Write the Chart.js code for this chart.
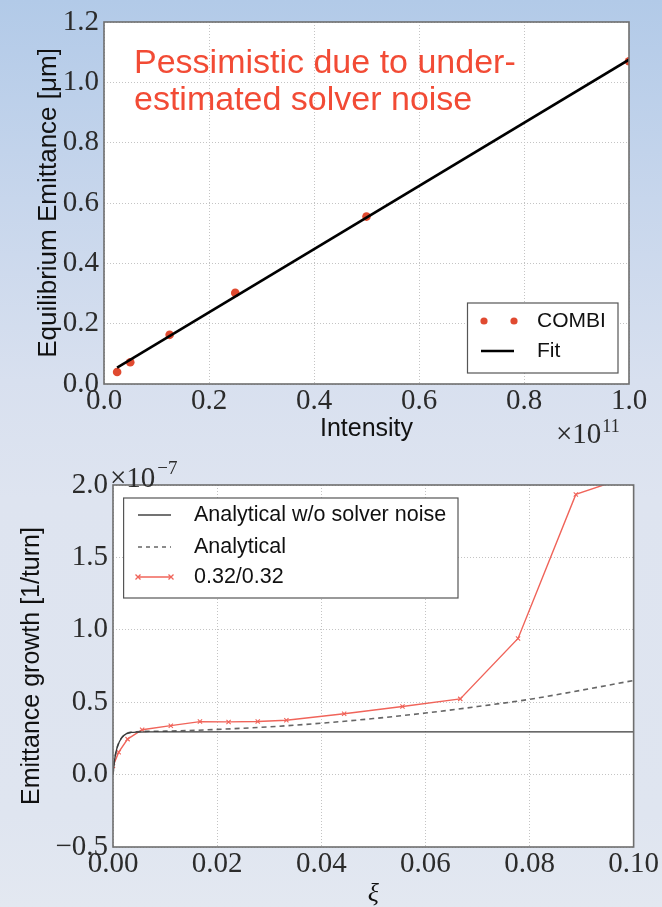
<!DOCTYPE html>
<html>
<head>
<meta charset="utf-8">
<script src="https://cdn.jsdelivr.net/npm/chart.js@4/dist/chart.umd.min.js"></script>
<style>
  html, body { margin:0; padding:0; }
  body { width:662px; height:907px; position:relative; overflow:hidden;
    background: linear-gradient(180deg, #b2cae8 0%, #c7d6ec 22%, #d8e0ef 42%, #dee4f0 55%, #dfe5f0 90%, #e3e8f1 100%); }
  canvas { position:absolute; left:0; }
  #top { top:0; }
  #bot { top:450px; }
</style>
</head>
<body>
<canvas id="top" width="662" height="450"></canvas>
<canvas id="bot" width="662" height="457"></canvas>
<script>
// ---------- Top chart data (Intensity in units of 1e11, emittance in µm) ----------
const intensity      = [0.025, 0.05, 0.125, 0.25, 0.5, 1.0];
const combiEmittance = [0.04, 0.072, 0.163, 0.302, 0.555, 1.07];
const fitIntensity   = [0.025, 1.0];
const fitEmittance   = [0.054, 1.075];
const topXTicks = [0, 0.2, 0.4, 0.6, 0.8, 1.0];
const topXLabels = ['0.0', '0.2', '0.4', '0.6', '0.8', '1.0'];
const topYTicks = [0, 0.2, 0.4, 0.6, 0.8, 1.0, 1.2];
const topYLabels = ['0.0', '0.2', '0.4', '0.6', '0.8', '1.0', '1.2'];

// ---------- Bottom chart data (growth in units of 1e-7 per turn) ----------
const xiNoNoise      = [0, 0.0003, 0.0007, 0.0012, 0.0017, 0.0026, 0.0035, 0.0045, 0.007, 0.1];
const growthNoNoise  = [0, 0.10, 0.175, 0.225, 0.256, 0.283, 0.291, 0.294, 0.295, 0.295];
const xiAnalytical     = [0, 0.0003, 0.0007, 0.0012, 0.0017, 0.0026, 0.0045, 0.01, 0.02, 0.03, 0.04, 0.05, 0.06, 0.07, 0.08, 0.09, 0.1];
const growthAnalytical = [0, 0.10, 0.175, 0.225, 0.256, 0.283, 0.296, 0.30, 0.312, 0.33, 0.355, 0.387, 0.425, 0.47, 0.52, 0.583, 0.65];
const xiSim     = [0, 0.0011, 0.0028, 0.0056, 0.0111, 0.0167, 0.0222, 0.0278, 0.0333, 0.0444, 0.0556, 0.0667, 0.0778, 0.0889, 0.1];
const growthSim = [0.06, 0.155, 0.245, 0.31, 0.338, 0.366, 0.364, 0.367, 0.375, 0.42, 0.47, 0.523, 0.94, 1.935, 2.07];
const botXTicks = [0, 0.02, 0.04, 0.06, 0.08, 0.10];
const botXLabels = ['0.00', '0.02', '0.04', '0.06', '0.08', '0.10'];
const botYTicks = [-0.5, 0, 0.5, 1.0, 1.5, 2.0];
const botYLabels = ['\u22120.5', '0.0', '0.5', '1.0', '1.5', '2.0'];

const SERIF = "'Liberation Serif', 'DejaVu Serif', serif";
const SANS = "'Liberation Sans', Arial, sans-serif";
const TICK_COLOR = '#2b2b2b';
const GRID_COLOR = '#c4c4c4';

const zip = (xs, ys) => xs.map((x, i) => ({x, y: ys[i]}));

const framePlugin = {
  id: 'frame',
  beforeDraw(chart) {
    const {ctx, chartArea: a} = chart;
    ctx.save();
    ctx.fillStyle = '#ffffff';
    ctx.fillRect(a.left, a.top, a.right - a.left, a.bottom - a.top);
    ctx.restore();
  },
  afterDatasetsDraw(chart) {
    const {ctx, chartArea: a} = chart;
    ctx.save();
    ctx.strokeStyle = '#6e6e6e';
    ctx.lineWidth = 1.6;
    ctx.strokeRect(a.left, a.top, a.right - a.left, a.bottom - a.top);
    ctx.restore();
  }
};

function axisCommon(ticksArr, labelsArr) {
  return {
    type: 'linear',
    afterBuildTicks: s => { s.ticks = ticksArr.map(v => ({value: v})); },
    ticks: {
      autoSkip: false, maxRotation: 0, minRotation: 0,
      callback: (v) => { const i = ticksArr.findIndex(t => Math.abs(t - v) < 1e-9); return i >= 0 ? labelsArr[i] : ''; },
      font: {family: SERIF, size: 29, lineHeight: 1.0},
      color: TICK_COLOR
    },
    grid: {color: GRID_COLOR, lineWidth: 1, drawTicks: false},
    border: {display: false, dash: [1, 2]}
  };
}

// ---------------- TOP CHART ----------------
const topX = axisCommon(topXTicks, topXLabels);
Object.assign(topX, {min: 0, max: 1, afterFit: s => { s.height = 66; }});
topX.ticks.padding = 3;
topX.title = {display: true, text: 'Intensity', color: '#111', font: {family: SANS, size: 25}, padding: {top: 0, bottom: 6}};
const topY = axisCommon(topYTicks, topYLabels);
Object.assign(topY, {min: 0, max: 1.2, afterFit: s => { s.width = 104; }});
topY.ticks.padding = 5;
topY.title = {display: true, text: 'Equilibrium Emittance [\u03bcm]', color: '#111', font: {family: SANS, size: 26}, padding: {top: 33, bottom: 0}};

const topOverlay = {
  id: 'topOverlay',
  afterDraw(chart) {
    const ctx = chart.ctx;
    ctx.save();
    // annotation
    ctx.fillStyle = '#f24b35';
    ctx.font = `34px ${SANS}`;
    ctx.textBaseline = 'alphabetic';
    ctx.textAlign = 'left';
    ctx.fillText('Pessimistic due to under-', 134, 73);
    ctx.fillText('estimated solver noise', 134, 110);
    // offset text
    ctx.fillStyle = TICK_COLOR;
    ctx.font = `29px ${SERIF}`;
    ctx.fillText('\u00d710', 556, 443);
    const w = ctx.measureText('\u00d710').width;
    ctx.font = `18px ${SERIF}`;
    ctx.fillText('11', 556 + w + 1, 432);
    // legend
    const bx = 467.5, by = 303, bw = 150.5, bh = 70;
    ctx.fillStyle = '#fff';
    ctx.fillRect(bx, by, bw, bh);
    ctx.strokeStyle = '#555';
    ctx.lineWidth = 1.2;
    ctx.strokeRect(bx, by, bw, bh);
    ctx.fillStyle = '#e04a30';
    [484, 514].forEach(x => { ctx.beginPath(); ctx.arc(x, 321, 3.6, 0, Math.PI * 2); ctx.fill(); });
    ctx.strokeStyle = '#000';
    ctx.lineWidth = 2.6;
    ctx.beginPath(); ctx.moveTo(481, 351); ctx.lineTo(514, 351); ctx.stroke();
    ctx.fillStyle = '#111';
    ctx.font = `21px ${SANS}`;
    ctx.textBaseline = 'middle';
    ctx.fillText('COMBI', 537, 321);
    ctx.fillText('Fit', 537, 351);
    ctx.restore();
  }
};

new Chart(document.getElementById('top'), {
  type: 'scatter',
  data: {
    datasets: [
      {label: 'COMBI', data: zip(intensity, combiEmittance), showLine: false,
       pointRadius: 4.3, pointBackgroundColor: '#e04a30', pointBorderWidth: 0, order: 1},
      {label: 'Fit', data: zip(fitIntensity, fitEmittance), showLine: true,
       borderColor: '#000', borderWidth: 2.6, pointRadius: 0, order: 0}
    ]
  },
  options: {
    responsive: false, animation: false, devicePixelRatio: 1,
    layout: {padding: {left: 0, top: 22, right: 33, bottom: 0}},
    plugins: {legend: {display: false}, tooltip: {enabled: false}},
    scales: {x: topX, y: topY}
  },
  plugins: [framePlugin, topOverlay]
});

// ---------------- BOTTOM CHART ----------------
const botX = axisCommon(botXTicks, botXLabels);
Object.assign(botX, {min: 0, max: 0.1, afterFit: s => { s.height = 60; }});
botX.ticks.padding = 3;
botX.title = {display: true, text: '\u03be', color: '#111', font: {family: SERIF, size: 26, style: 'italic', lineHeight: 1.0}, padding: {top: 0, bottom: 0}};
const botY = axisCommon(botYTicks, botYLabels);
Object.assign(botY, {min: -0.5, max: 2.0, afterFit: s => { s.width = 113; }});
botY.ticks.padding = 5;
botY.title = {display: true, text: 'Emittance growth [1/turn]', color: '#111', font: {family: SANS, size: 25}, padding: {top: 17, bottom: 0}};

const botOverlay = {
  id: 'botOverlay',
  afterDraw(chart) {
    const ctx = chart.ctx;
    ctx.save();
    ctx.fillStyle = TICK_COLOR;
    ctx.textAlign = 'left';
    ctx.textBaseline = 'alphabetic';
    ctx.font = `29px ${SERIF}`;
    ctx.fillText('\u00d710', 110, 37);
    const w = ctx.measureText('\u00d710').width;
    ctx.font = `19px ${SERIF}`;
    ctx.fillText('\u22127', 110 + w + 2, 24);
    // legend
    const bx = 123.6, by = 48, bw = 334.4, bh = 100;
    ctx.fillStyle = '#fff';
    ctx.fillRect(bx, by, bw, bh);
    ctx.strokeStyle = '#555';
    ctx.lineWidth = 1.2;
    ctx.strokeRect(bx, by, bw, bh);
    ctx.lineWidth = 1.3;
    ctx.strokeStyle = '#444';
    ctx.beginPath(); ctx.moveTo(138, 65); ctx.lineTo(171, 65); ctx.stroke();
    ctx.strokeStyle = '#666';
    ctx.setLineDash([4, 4]);
    ctx.beginPath(); ctx.moveTo(138, 97); ctx.lineTo(171, 97); ctx.stroke();
    ctx.setLineDash([]);
    ctx.strokeStyle = '#f0645a';
    ctx.beginPath(); ctx.moveTo(138, 127); ctx.lineTo(171, 127); ctx.stroke();
    [138, 171].forEach(x => {
      ctx.beginPath(); ctx.moveTo(x - 2.5, 124.5); ctx.lineTo(x + 2.5, 129.5);
      ctx.moveTo(x - 2.5, 129.5); ctx.lineTo(x + 2.5, 124.5); ctx.stroke();
    });
    ctx.fillStyle = '#111';
    ctx.font = `21.5px ${SANS}`;
    ctx.textBaseline = 'middle';
    ctx.fillText('Analytical w/o solver noise', 194, 65);
    ctx.fillText('Analytical', 194, 97);
    ctx.fillText('0.32/0.32', 194, 127);
    ctx.restore();
  }
};

new Chart(document.getElementById('bot'), {
  type: 'scatter',
  data: {
    datasets: [
      {label: 'Analytical w/o solver noise', data: zip(xiNoNoise, growthNoNoise), showLine: true,
       borderColor: '#3a3a3a', borderWidth: 1.3, pointRadius: 0, tension: 0.3, cubicInterpolationMode: 'monotone'},
      {label: 'Analytical', data: zip(xiAnalytical, growthAnalytical), showLine: true,
       borderColor: '#666', borderWidth: 1.6, borderDash: [5, 4], pointRadius: 0, cubicInterpolationMode: 'monotone', tension: 0.3},
      {label: '0.32/0.32', data: zip(xiSim, growthSim), showLine: true,
       borderColor: '#f0645a', borderWidth: 1.4, pointStyle: 'crossRot', pointRadius: 3,
       pointBorderColor: '#f0645a', pointBorderWidth: 1.1}
    ]
  },
  options: {
    responsive: false, animation: false, devicePixelRatio: 1,
    layout: {padding: {left: 0, top: 35, right: 26, bottom: 0}},
    plugins: {legend: {display: false}, tooltip: {enabled: false}},
    scales: {x: botX, y: botY}
  },
  plugins: [framePlugin, botOverlay]
});
</script>
</body>
</html>
